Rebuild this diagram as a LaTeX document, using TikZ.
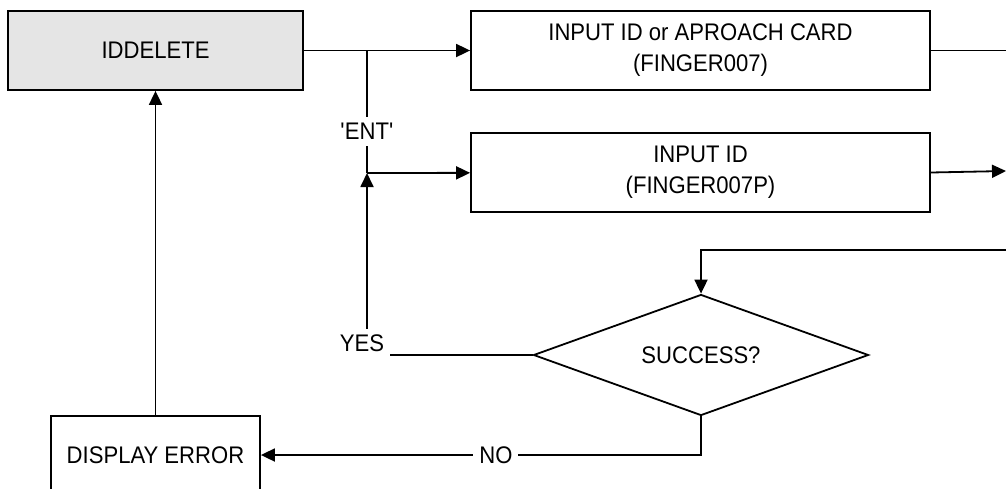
\documentclass[tikz,border=0pt]{standalone}
\usepackage{fontspec}
\setmainfont{Liberation Sans}[FakeStretch=0.92]
\usepackage{tikz}
\usetikzlibrary{arrows.meta,shapes.geometric}
\tikzset{
  flowbox/.style = {draw=black, rectangle, align=center, inner sep=0pt,
    font=\fontsize{24pt}{31pt}\selectfont},% boite simple
  startbox/.style = {flowbox, fill=black!10},% boite grise
  decision/.style = {draw=black, diamond, inner sep=0pt, aspect=2.77,
    minimum width=335pt, minimum height=121pt,
    font=\fontsize{24pt}{31pt}\selectfont},% test
  lbl/.style = {fill=white, inner sep=6pt,
    font=\fontsize{24pt}{31pt}\selectfont}% etiquette sur un trait
}
\begin{document}
\begin{tikzpicture}[x=1pt,y=-1pt,line width=1.8pt,->,
  >={Triangle[length=14pt,width=13pt]}]
\useasboundingbox (0,0) rectangle (1006,488);
\node [startbox, minimum width=295pt, minimum height=79pt] (iddel) at (155.5,50.5) {IDDELETE};
\node [flowbox, minimum width=459pt, minimum height=79pt] (card) at (700.5,50.5)
  {INPUT ID or APROACH CARD\\(FINGER007)};
\node [flowbox, minimum width=459pt, minimum height=79pt] (idin) at (700.5,172.5)
  {INPUT ID\\(FINGER007P)};
\node [decision] (succ) at (701,355) {SUCCESS?};
\node [flowbox, minimum width=209pt, minimum height=78pt] (err) at (155.5,455) {DISPLAY ERROR};
\coordinate (split) at (367,50.5);
\coordinate (ent) at (367,173);
\coordinate (outA) at (1006,50.5);
\coordinate (outB) at (1006,171);
\coordinate (inC) at (1006,250);

\draw (iddel) -- (card);
\draw [-] (split) -- node[lbl, pos=0.66] {\textquotesingle ENT\textquotesingle} (ent);
\draw (ent) -- (idin);
\draw (succ.west) -| node[lbl, pos=0.5, xshift=-5pt, yshift=12pt] {YES} (ent);
\draw [-] (card.east) -- (outA);
\draw (idin.east) -- (outB);
\draw (inC) -| (succ.north);
\draw (succ.south) |- node[lbl, pos=0.733] {NO} (err.east);
\draw (err) -- (iddel);
\end{tikzpicture}
\end{document}
